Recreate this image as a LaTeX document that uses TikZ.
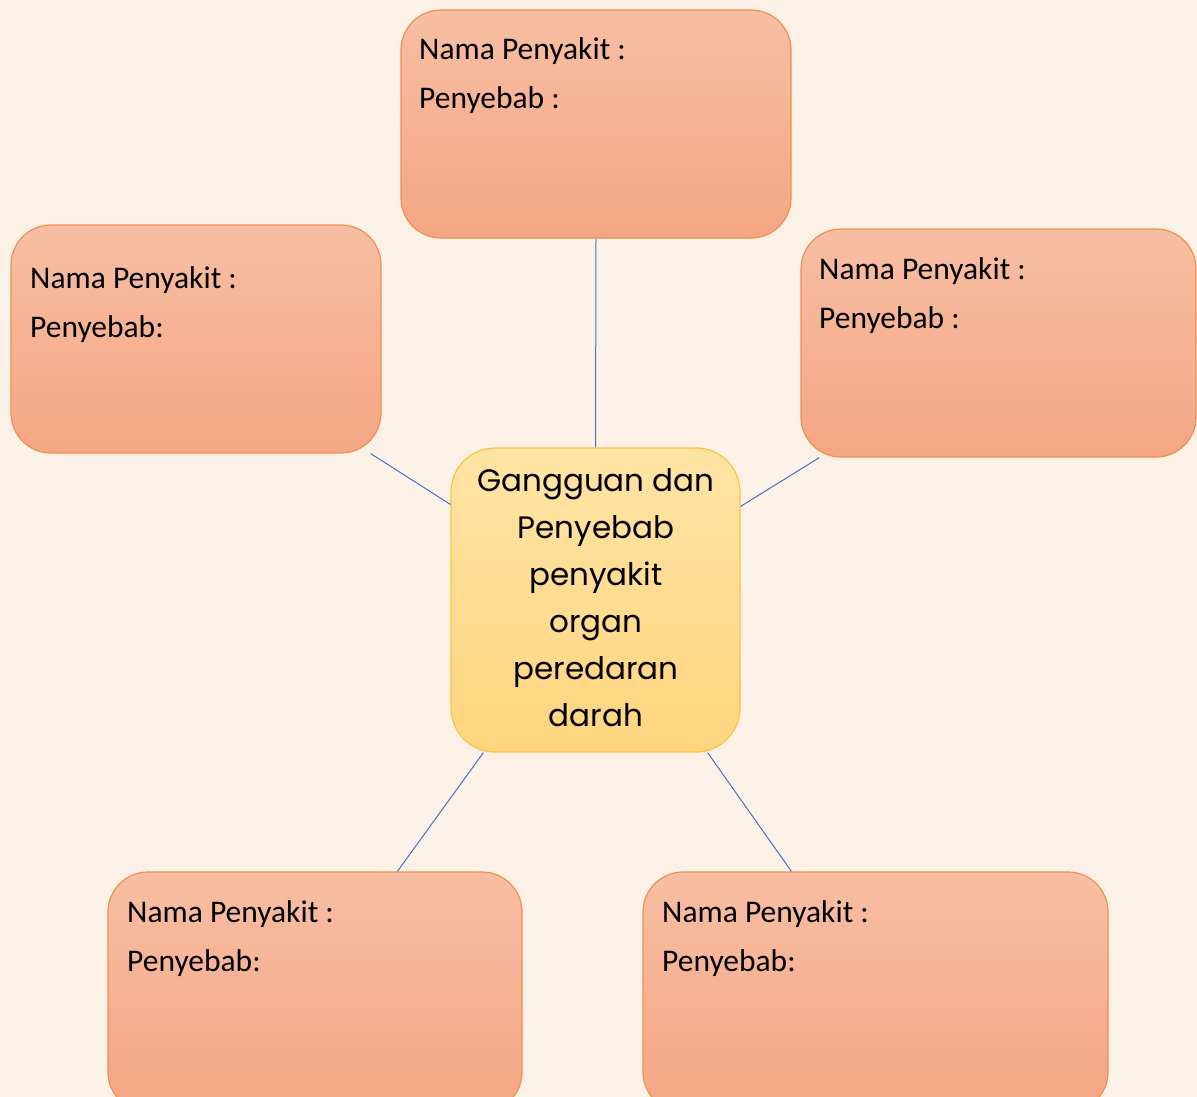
\documentclass[tikz,border=0pt]{standalone}
\usepackage{fontspec}
\setmainfont{Carlito}
\newfontfamily\ctrfont{Poppins}
\usetikzlibrary{calc}
\definecolor{bgc}{HTML}{FCF1E6}
\definecolor{otop}{HTML}{F7BEA3}
\definecolor{obot}{HTML}{F5A684}
\definecolor{oline}{HTML}{F08F4E}
\definecolor{ytop}{HTML}{FEE4A4}
\definecolor{ybot}{HTML}{FFD57F}
\definecolor{yline}{HTML}{F9C440}
\definecolor{linkc}{HTML}{4472C4}
\tikzset{
  obox/.style={draw=oline, line width=1.2pt, rounded corners=40pt, top color=otop, bottom color=obot, inner sep=0pt},
  cbox/.style={draw=yline, line width=1.2pt, rounded corners=44pt, top color=ytop, bottom color=ybot, inner sep=0pt},
  lbl/.style={anchor=base west, inner sep=0pt, font=\fontsize{31.5}{38}\selectfont, text=black},
  ctext/.style={align=center, inner sep=0pt, font=\ctrfont\fontsize{31}{47}\selectfont, text=black},
  link/.style={draw=linkc, line width=1pt}
}
\begin{document}
\begin{tikzpicture}[x=1pt,y=-1pt]
\clip (0,0) rectangle (1197,1097);
\fill[bgc] (0,0) rectangle (1197,1097);
% boxes
\node[obox, minimum width=390pt, minimum height=228pt] (top) at (596,124) {};
\node[obox, minimum width=370pt, minimum height=228pt] (left) at (196,339) {};
\node[obox, minimum width=395pt, minimum height=228pt] (right) at (998.5,343) {};
\node[obox, minimum width=414pt, minimum height=240pt] (bl) at (315,992) {};
\node[obox, minimum width=465pt, minimum height=240pt] (br) at (875.5,992) {};
\node[cbox, minimum width=289pt, minimum height=304pt] (ctr) at (595.5,600) {};
% texts
\node[lbl] (t1) at (419,60) {Nama Penyakit :};
\node[lbl] (t2) at (419,109) {Penyebab :};
\node[lbl] (l1) at (30,288) {Nama Penyakit :};
\node[lbl] (l2) at (30,337) {Penyebab:};
\node[lbl] (r1) at (819,279) {Nama Penyakit :};
\node[lbl] (r2) at (819,328) {Penyebab :};
\node[lbl] (b1) at (127,922) {Nama Penyakit :};
\node[lbl] (b2) at (127,971) {Penyebab:};
\node[lbl] (d1) at (662,922) {Nama Penyakit :};
\node[lbl] (d2) at (662,971) {Penyebab:};
\node[ctext] (ct) at (596,598) {Gangguan dan\\Penyebab\\penyakit\\organ\\peredaran\\darah};
% connector ends
\coordinate (la) at ($(left.south east)+(-11,0)$);
\coordinate (lb) at ($(ctr.north west)+(0,57)$);
\coordinate (ra) at ($(right.south west)+(19,0)$);
\coordinate (rb) at ($(ctr.north east)+(0,59)$);
\coordinate (ba) at ($(ctr.south west)+(33,0)$);
\coordinate (bb) at ($(bl.north west)+(290,0)$);
\coordinate (da) at ($(ctr.south east)+(-33,0)$);
\coordinate (db) at ($(br.north west)+(149,0)$);
\draw[link] (top.south) -- (ctr.north);
\draw[link] (la) -- (lb);
\draw[link] (ra) -- (rb);
\draw[link] (ba) -- (bb);
\draw[link] (da) -- (db);
\end{tikzpicture}
\end{document}
